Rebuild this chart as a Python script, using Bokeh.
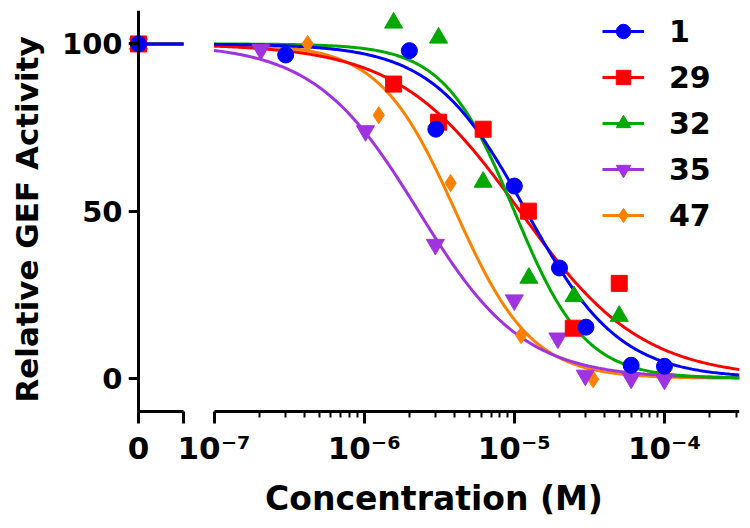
import numpy as np
from bokeh.plotting import figure
from bokeh.models import (Range1d, LinearScale, LinearAxis, LogAxis, FixedTicker,
                          LogTickFormatter, Legend, LegendItem)
from bokeh.embed import file_html
from bokeh.resources import INLINE

# ---------------- data ----------------
series_labels = ["1", "29", "32", "35", "47"]

conc_1 = [3.0e-7, 2.0e-6, 3.0e-6, 1.0e-5, 2.0e-5, 3.0e-5, 6.0e-5, 1.0e-4]
act_1 = [96.7, 98.0, 74.5, 57.5, 33.0, 15.3, 3.9, 3.6]

conc_29 = [1.57e-6, 3.13e-6, 6.2e-6, 1.24e-5, 2.47e-5, 5.0e-5]
act_29 = [88.0, 76.6, 74.5, 50.0, 15.0, 28.4]

conc_32 = [1.57e-6, 3.13e-6, 6.2e-6, 1.25e-5, 2.5e-5, 5.0e-5]
act_32 = [106.3, 101.8, 58.7, 30.0, 24.5, 18.6]

conc_35 = [2.05e-7, 1.02e-6, 2.98e-6, 1.0e-5, 1.95e-5, 2.97e-5, 6.0e-5, 1.0e-4]
act_35 = [98.3, 74.0, 40.0, 23.4, 12.0, 0.9, 0.0, -0.3]

conc_47 = [4.2e-7, 1.25e-6, 3.76e-6, 1.11e-5, 3.35e-5]
act_47 = [100.0, 78.7, 58.4, 12.9, -0.3]

# activity measured without compound (concentration 0)
zero_act = [100.0, 100.0, 100.0, 100.0, 100.0]

# fitted dose-response parameters
fit_ic50 = [1.2e-5, 1.09e-5, 1.0e-5, 2.3e-6, 4.05e-6]
fit_hill = [1.4, 1.07, 1.85, 1.25, 1.71]
fit_top = [100.0, 100.0, 100.0, 100.0, 100.0]
fit_bottom = [0.0, 0.0, 0.0, 0.0, 0.0]

y_ticks = [0, 50, 100]
x_major_ticks = [1e-7, 1e-6, 1e-5, 1e-4]
x_major_labels = ["10\u207b\u2077", "10\u207b\u2076", "10\u207b\u2075", "10\u207b\u2074"]
x_minor_ticks = [m * 10.0 ** e for e in range(-7, -3) for m in range(2, 10) if m * 10.0 ** e < 3.2e-4]
zero_tick_label = "0"

concs = [conc_1, conc_29, conc_32, conc_35, conc_47]
acts = [act_1, act_29, act_32, act_35, act_47]

# ---------------- style ----------------
colors = ["#0000FF", "#FF0000", "#00A800", "#A033E0", "#FF8000"]
markers = ["circle", "square", "triangle", "inverted_triangle", "diamond"]
msizes = [16, 16, 18, 18, 17]
FONT = "DejaVu Sans"

x_start_log, x_end_log = 10 ** -7.57, 10 ** -3.5
lin_start, lin_end = -0.2, 12.02
y_axis_min, y_axis_max = -10, 110     # extent of the drawn y axis
y_view_min = -15                       # room under the x axis for its ticks
fit_from = 1e-7
zero_seg = [0.0, 0.9]

# where concentration "0" (on the linear segment) falls on the main log scale
frac0 = (0.0 - lin_start) / (lin_end - lin_start)
zero_tick = 10 ** (np.log10(x_start_log) + frac0 * (np.log10(x_end_log) - np.log10(x_start_log)))

p = figure(width=742, height=520, x_axis_type="log",
           x_range=Range1d(x_start_log, x_end_log), y_range=Range1d(y_view_min, y_axis_max),
           x_axis_location=None, y_axis_location=None,
           output_backend="svg", toolbar_location=None,
           min_border_left=128, min_border_right=3, min_border_top=10, min_border_bottom=92)
p.xgrid.visible = False
p.ygrid.visible = False
p.outline_line_color = None
p.background_fill_color = "white"
p.extra_x_ranges = {"lin": Range1d(lin_start, lin_end)}
p.extra_x_scales = {"lin": LinearScale()}

# --- y axis: labels + title (at frame edge), line/ticks drawn at concentration 0
ylab = LinearAxis(ticker=FixedTicker(ticks=y_ticks, minor_ticks=[]),
                  bounds=(y_axis_min, y_axis_max),
                  axis_label="Relative GEF Activity")
ylab.axis_line_color = None
ylab.major_tick_line_color = None
ylab.major_tick_out = 0
ylab.major_tick_in = 0
ylab.major_label_standoff = 6
ylab.major_label_text_font = FONT
ylab.major_label_text_font_style = "bold"
ylab.major_label_text_font_size = "29px"
ylab.major_label_text_color = "black"
ylab.axis_label_standoff = 14
ylab.axis_label_text_font = FONT
ylab.axis_label_text_font_style = "bold"
ylab.axis_label_text_font_size = "31px"
ylab.axis_label_text_color = "black"
p.add_layout(ylab, "left")

yline = LinearAxis(x_range_name="lin", fixed_location=0, bounds=(y_axis_min, y_axis_max),
                   ticker=FixedTicker(ticks=y_ticks, minor_ticks=[]))
yline.axis_line_width = 3
yline.major_tick_line_width = 3
yline.major_tick_out = 10
yline.major_tick_in = 0
yline.major_label_text_color = None
p.add_layout(yline, "left")

# --- x axis: labels + title
overrides = {zero_tick: zero_tick_label}
overrides.update(dict(zip(x_major_ticks, x_major_labels)))
xlab = LogAxis(ticker=FixedTicker(ticks=[zero_tick] + x_major_ticks, minor_ticks=[]),
               formatter=LogTickFormatter(), major_label_overrides=overrides,
               axis_label="Concentration (M)")
xlab.axis_line_color = None
xlab.major_tick_line_color = None
xlab.major_tick_out = 0
xlab.major_tick_in = 0
xlab.major_label_standoff = 1
xlab.major_label_text_font = FONT
xlab.major_label_text_font_style = "bold"
xlab.major_label_text_font_size = "31px"
xlab.major_label_text_color = "black"
xlab.axis_label_standoff = 10
xlab.axis_label_text_font = FONT
xlab.axis_label_text_font_style = "bold"
xlab.axis_label_text_font_size = "33px"
xlab.axis_label_text_color = "black"
p.add_layout(xlab, "below")

# log segment line + ticks (drawn at y = -10, ticks pointing down)
xline = LogAxis(fixed_location=y_axis_min, bounds=(fit_from, x_end_log),
                ticker=FixedTicker(ticks=x_major_ticks, minor_ticks=x_minor_ticks))
xline.axis_line_width = 3
xline.major_tick_line_width = 3
xline.major_tick_out = 0
xline.major_tick_in = 12
xline.minor_tick_line_width = 2
xline.minor_tick_out = 0
xline.minor_tick_in = 6
xline.major_label_text_color = None
p.add_layout(xline, "above")

# zero segment line + ticks
zline = LinearAxis(x_range_name="lin", fixed_location=y_axis_min, bounds=(zero_seg[0], zero_seg[1]),
                   ticker=FixedTicker(ticks=zero_seg, minor_ticks=[]))
zline.axis_line_width = 3
zline.major_tick_line_width = 3
zline.major_tick_out = 0
zline.major_tick_in = 12
zline.major_label_text_color = None
p.add_layout(zline, "above")

# curves
x_fit = np.logspace(np.log10(fit_from), np.log10(x_end_log), 300)
curve_r = [None] * 5
draw_order = [4, 3, 1, 2, 0]
for i in draw_order:
    y_fit = fit_bottom[i] + (fit_top[i] - fit_bottom[i]) / (1 + (x_fit / fit_ic50[i]) ** fit_hill[i])
    curve_r[i] = p.line(x_fit, y_fit, line_color=colors[i], line_width=3)
    p.line(zero_seg, [fit_top[i], fit_top[i]], x_range_name="lin",
           line_color=colors[i], line_width=3)

marker_order = [4, 3, 2, 1, 0]
mark_r = [None] * 5
for i in marker_order:
    mark_r[i] = p.scatter(concs[i], acts[i], marker=markers[i], size=msizes[i],
                          fill_color=colors[i], line_color=colors[i], line_width=1)
    p.scatter([0.0], [zero_act[i]], x_range_name="lin", marker=markers[i], size=msizes[i],
              fill_color=colors[i], line_color=colors[i], line_width=1)

legend = Legend(items=[LegendItem(label=series_labels[i], renderers=[curve_r[i], mark_r[i]])
                       for i in range(5)],
                location=(474, 195))
legend.label_text_font = FONT
legend.label_text_font_style = "bold"
legend.label_text_font_size = "30px"
legend.label_text_color = "black"
legend.glyph_width = 42
legend.glyph_height = 36
legend.label_height = 36
legend.spacing = 10
legend.padding = 0
legend.margin = 0
legend.label_standoff = 25
legend.border_line_color = None
legend.background_fill_alpha = 0
p.add_layout(legend)

open("out.html", "w").write(file_html(p, INLINE))
